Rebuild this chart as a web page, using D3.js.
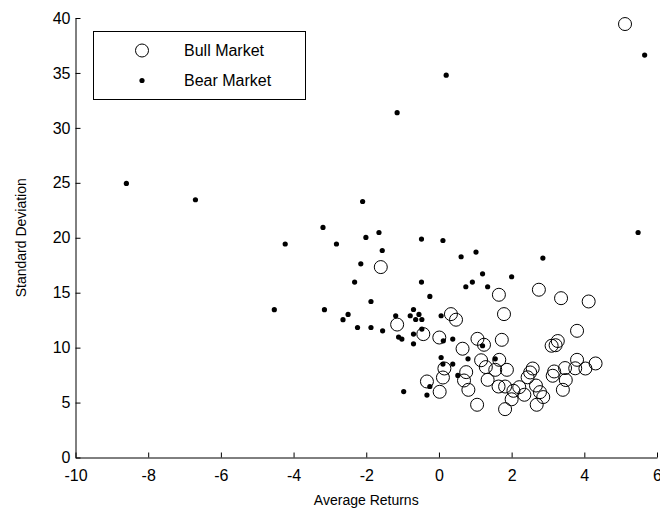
<!DOCTYPE html>
<html>
<head>
<meta charset="utf-8">
<script src="https://cdn.jsdelivr.net/npm/d3@7"></script>
<style>
  body { margin: 0; background: #fff; }
  text { font-family: "Liberation Sans", Arial, sans-serif; }
</style>
</head>
<body>
<script>
// values: [average return, standard deviation]
var bullMarket = [
  [5.12, 39.45], [-1.6, 17.33], [1.65, 14.81], [2.75, 15.27], [3.36, 14.5],
  [4.12, 14.2], [1.79, 13.05], [0.33, 13.05], [0.47, 12.54], [-1.15, 12.1],
  [3.8, 11.53], [-0.43, 11.23], [0.01, 10.92], [1.06, 10.8], [1.24, 10.26],
  [1.73, 10.71], [0.65, 9.9], [3.1, 10.17], [3.27, 10.6], [3.21, 10.22],
  [1.16, 8.85], [1.66, 8.89], [1.29, 8.23], [1.55, 7.98], [1.87, 7.98],
  [3.8, 8.89], [4.31, 8.56], [4.03, 8.1], [3.75, 8.12], [3.47, 8.14],
  [3.17, 7.83], [3.13, 7.44], [3.49, 7.05], [3.41, 6.16], [2.58, 8.1],
  [2.51, 7.74], [2.44, 7.3], [2.67, 6.55], [2.78, 5.95], [2.87, 5.5],
  [2.69, 4.8], [2.35, 5.71], [2.21, 6.4], [2.05, 6.07], [2.0, 5.3],
  [1.82, 4.4], [1.05, 4.8], [0.75, 7.77], [0.69, 7.01], [0.81, 6.16],
  [1.34, 7.07], [1.64, 6.46], [1.82, 6.46], [0.15, 8.1], [0.11, 7.28],
  [-0.33, 6.92], [0.02, 5.98]
];

var bearMarket = [
  [-8.6, 24.94], [-6.7, 23.46], [-4.23, 19.43], [-3.19, 20.94], [-4.53, 13.45],
  [-3.15, 13.45], [-2.5, 13.02], [-2.64, 12.54], [-2.1, 23.3], [-2.82, 19.43],
  [-2.01, 20.03], [-1.65, 20.48], [-1.56, 18.84], [-0.48, 19.88], [0.11, 19.75],
  [0.61, 18.27], [1.02, 18.7], [2.86, 18.15], [5.48, 20.48], [5.66, 36.63],
  [0.2, 34.8], [-1.15, 31.38], [-2.15, 17.63], [-2.32, 15.97], [-0.48, 15.97],
  [1.2, 16.72], [0.92, 15.97], [0.74, 15.54], [1.34, 15.54], [2.0, 16.45],
  [-1.87, 14.2], [-0.25, 14.66], [-2.24, 11.83], [-1.87, 11.83], [-1.55, 11.53],
  [-1.19, 12.9], [-0.7, 13.47], [-0.79, 12.9], [-0.55, 13.02], [-0.64, 12.56],
  [-0.47, 12.56], [0.06, 12.9], [-1.11, 10.96], [-1.02, 10.78], [-0.7, 11.23],
  [-0.7, 10.35], [-0.47, 11.69], [0.12, 10.62], [0.06, 9.1], [0.11, 8.5],
  [0.38, 8.5], [-0.25, 6.46], [-0.33, 5.68], [-0.97, 6.0], [0.38, 10.78],
  [0.8, 8.98], [1.2, 10.17], [0.52, 7.47], [1.55, 8.98]
];

var xTicks = [-10, -8, -6, -4, -2, 0, 2, 4, 6];
var yTicks = [0, 5, 10, 15, 20, 25, 30, 35, 40];
var legendNames = ["Bull Market", "Bear Market"];

var svg = d3.select("body")
            .append("svg")
            .attr("width", 660)
            .attr("height", 514);

var x = d3.scaleLinear()
    .domain([-10, 6])
    .range([75.5, 657]);
var y = d3.scaleLinear()
    .domain([0, 40])
    .range([457.5, 18]);

// plain hyphen for negatives, like the original
var plain = function(d) { return String(d); };

// axes, ticks inward like matlab
var xAxis = svg.append("g")
    .attr("transform", "translate(0," + y(0) + ")")
    .call(d3.axisBottom(x).tickValues(xTicks).tickFormat(plain)
          .tickSizeInner(-5).tickSizeOuter(0).tickPadding(12));
var yAxis = svg.append("g")
    .attr("transform", "translate(" + x(-10) + ",0)")
    .call(d3.axisLeft(y).tickValues(yTicks).tickFormat(plain)
          .tickSizeInner(-5).tickSizeOuter(0).tickPadding(5));

svg.selectAll(".tick text")
    .attr("font-size", "16px")
    .attr("fill", "#000")
    .style("font-family", "'Liberation Sans', Arial, sans-serif");
svg.selectAll(".domain, .tick line").attr("stroke", "#000");

svg.append("text")
    .text("Average Returns")
    .attr("x", (x(-10) + x(6)) / 2)
    .attr("y", 505)
    .attr("text-anchor", "middle")
    .attr("font-size", "14px");

svg.append("text")
    .text("Standard Deviation")
    .attr("transform", "translate(26," + (y(20)) + ") rotate(-90)")
    .attr("text-anchor", "middle")
    .attr("font-size", "14px");

svg.append("g").selectAll("circle")
    .data(bullMarket)
    .enter()
    .append("circle")
    .attr("cx", function(d) { return x(d[0]); })
    .attr("cy", function(d) { return y(d[1]); })
    .attr("r", 6.5)
    .style("fill", "none")
    .style("stroke", "#000")
    .style("stroke-width", 1);

svg.append("g").selectAll("circle")
    .data(bearMarket)
    .enter()
    .append("circle")
    .attr("cx", function(d) { return x(d[0]); })
    .attr("cy", function(d) { return y(d[1]); })
    .attr("r", 2.6)
    .style("fill", "#000");

// legend
var legend = svg.append("g");
legend.append("rect")
    .attr("x", 93.5)
    .attr("y", 31.5)
    .attr("width", 212)
    .attr("height", 68)
    .style("fill", "#fff")
    .style("stroke", "#000");

legend.selectAll("text")
    .data(legendNames)
    .enter()
    .append("text")
    .text(function(d) { return d; })
    .attr("x", 184)
    .attr("y", function(d, i) { return 56 + i * 30; })
    .attr("font-size", "16px");

legend.append("circle")
    .attr("cx", 142)
    .attr("cy", 50.5)
    .attr("r", 6.5)
    .style("fill", "none")
    .style("stroke", "#000");
legend.append("circle")
    .attr("cx", 142)
    .attr("cy", 80.5)
    .attr("r", 2.6)
    .style("fill", "#000");
</script>
</body>
</html>
